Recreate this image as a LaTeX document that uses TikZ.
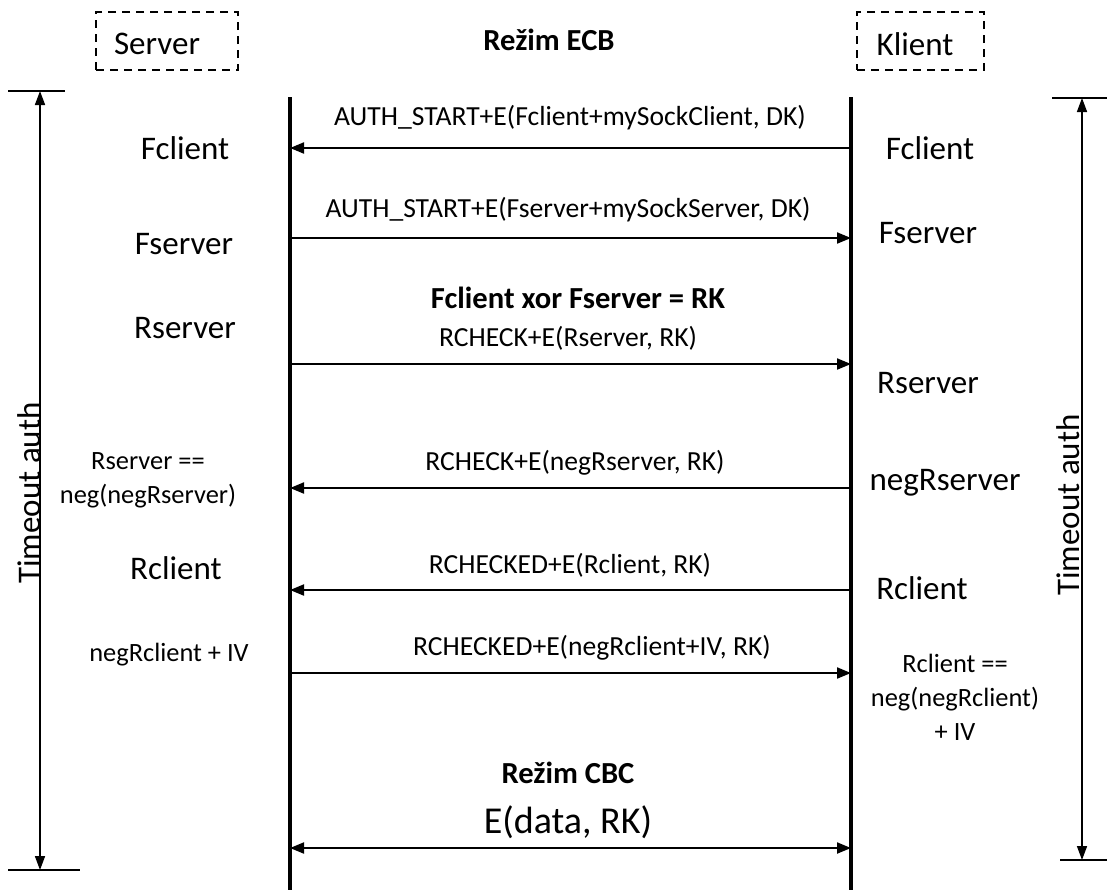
\documentclass[tikz,border=0pt]{standalone}
\usepackage{fontspec}
\setmainfont{Carlito}
\usetikzlibrary{arrows.meta}
\tikzset{
	lifeline/.style={line width=2pt},
	msg/.style={line width=1pt,-{Triangle[length=7pt,width=5.5pt]}},
	timeout/.style={line width=0.8pt,{Triangle[length=7pt,width=5pt]}-{Triangle[length=7pt,width=5pt]}},
	party/.style={draw,dashed,line width=1pt,dash pattern=on 4pt off 3pt,minimum width=71pt,minimum height=29pt},
	big/.style={font=\fontsize{16.5}{19}\selectfont},
	lbl/.style={font=\fontsize{13.8}{17}\selectfont},
	note/.style={font=\fontsize{13.2}{17}\selectfont,align=center},
	mode/.style={font=\bfseries\fontsize{15.3}{18}\selectfont}
}
\begin{document}
\begin{tikzpicture}[x=0.5pt,y=-0.5pt]
		\useasboundingbox (0,0) rectangle (1107,890);
		% participants
		\node[party] (server) at (167,41) {};
		\node[party, minimum width=63.5pt] (klient) at (920.5,41) {};
		\node[big] (serverT) at (157,44) {Server};
		\node[big] (klientT) at (915,44) {Klient};
		\node[mode] (ecb) at (549,40) {Režim ECB};
		% lifelines
		\coordinate (S0) at (290,97);
		\coordinate (S9) at (290,890);
		\coordinate (K0) at (851,97);
		\coordinate (K9) at (851,890);
		\draw[lifeline] (S0) -- (S9);
		\draw[lifeline] (K0) -- (K9);
		% message end points
		\coordinate (S1) at (290,148);
		\coordinate (K1) at (851,148);
		\coordinate (S2) at (290,238);
		\coordinate (K2) at (851,238);
		\coordinate (S3) at (290,364);
		\coordinate (K3) at (851,364);
		\coordinate (S4) at (290,488);
		\coordinate (K4) at (851,488);
		\coordinate (S5) at (290,590);
		\coordinate (K5) at (851,590);
		\coordinate (S6) at (290,673);
		\coordinate (K6) at (851,673);
		\coordinate (S7) at (290,848);
		\coordinate (K7) at (851,848);
		\draw[msg] (K1) -- (S1);
		\draw[msg] (S2) -- (K2);
		\draw[msg] (S3) -- (K3);
		\draw[msg] (K4) -- (S4);
		\draw[msg] (K5) -- (S5);
		\draw[msg] (S6) -- (K6);
		\draw[msg,{Triangle[length=7pt,width=5.5pt]}-{Triangle[length=7pt,width=5.5pt]}] (S7) -- (K7);
		% timeout
		\coordinate (LT) at (40,91);
		\coordinate (LB) at (40,870);
		\coordinate (RT) at (1082,98);
		\coordinate (RB) at (1082,860);
		\draw[timeout] (LT) -- (LB);
		\draw[timeout] (RT) -- (RB);
		\draw[line width=0.8pt] (8,91) -- (65,91);
		\draw[line width=0.8pt] (8,870) -- (80,870);
		\draw[line width=0.8pt] (1052,98) -- (1107,98);
		\draw[line width=0.8pt] (1060,860) -- (1107,860);
		\node[big, rotate=90] (tl) at (29,493) {Timeout auth};
		\node[big, rotate=90] (tr) at (1068,505) {Timeout auth};
		% message labels
		\node[lbl] (m1) at (570,118) {AUTH\_START+E(Fclient+mySockClient, DK)};
		\node[lbl] (m2) at (568,210) {AUTH\_START+E(Fserver+mySockServer, DK)};
		\node[mode] (xor) at (578,298) {Fclient xor Fserver = RK};
		\node[lbl] (m3) at (568,338) {RCHECK+E(Rserver, RK)};
		\node[lbl] (m4) at (575,463) {RCHECK+E(negRserver, RK)};
		\node[lbl] (m5) at (570,565) {RCHECKED+E(Rclient, RK)};
		\node[lbl] (m6) at (592,648) {RCHECKED+E(negRclient+IV, RK)};
		\node[mode] (cbc) at (568,773) {Režim CBC};
		\node[font=\fontsize{19}{22}\selectfont] (m7) at (568,822) {E(data, RK)};
		% server side
		\node[big] (sF1) at (185,148) {Fclient};
		\node[big] (sF2) at (184,244) {Fserver};
		\node[big] (sR1) at (185,328) {Rserver};
		\node[note] (sR2) at (148,480) {Rserver ==\\neg(negRserver)};
		\node[big] (sR3) at (176,568) {Rclient};
		\node[note] (sR4) at (169,655) {negRclient + IV};
		% klient side
		\node[big] (kF1) at (930,148) {Fclient};
		\node[big] (kF2) at (928,233) {Fserver};
		\node[big] (kR1) at (928,383) {Rserver};
		\node[big] (kR2) at (945,483) {negRserver};
		\node[big] (kR3) at (922,588) {Rclient};
		\node[note] (kR4) at (955,697) {Rclient ==\\neg(negRclient)\\+ IV};
	\end{tikzpicture}
\end{document}
